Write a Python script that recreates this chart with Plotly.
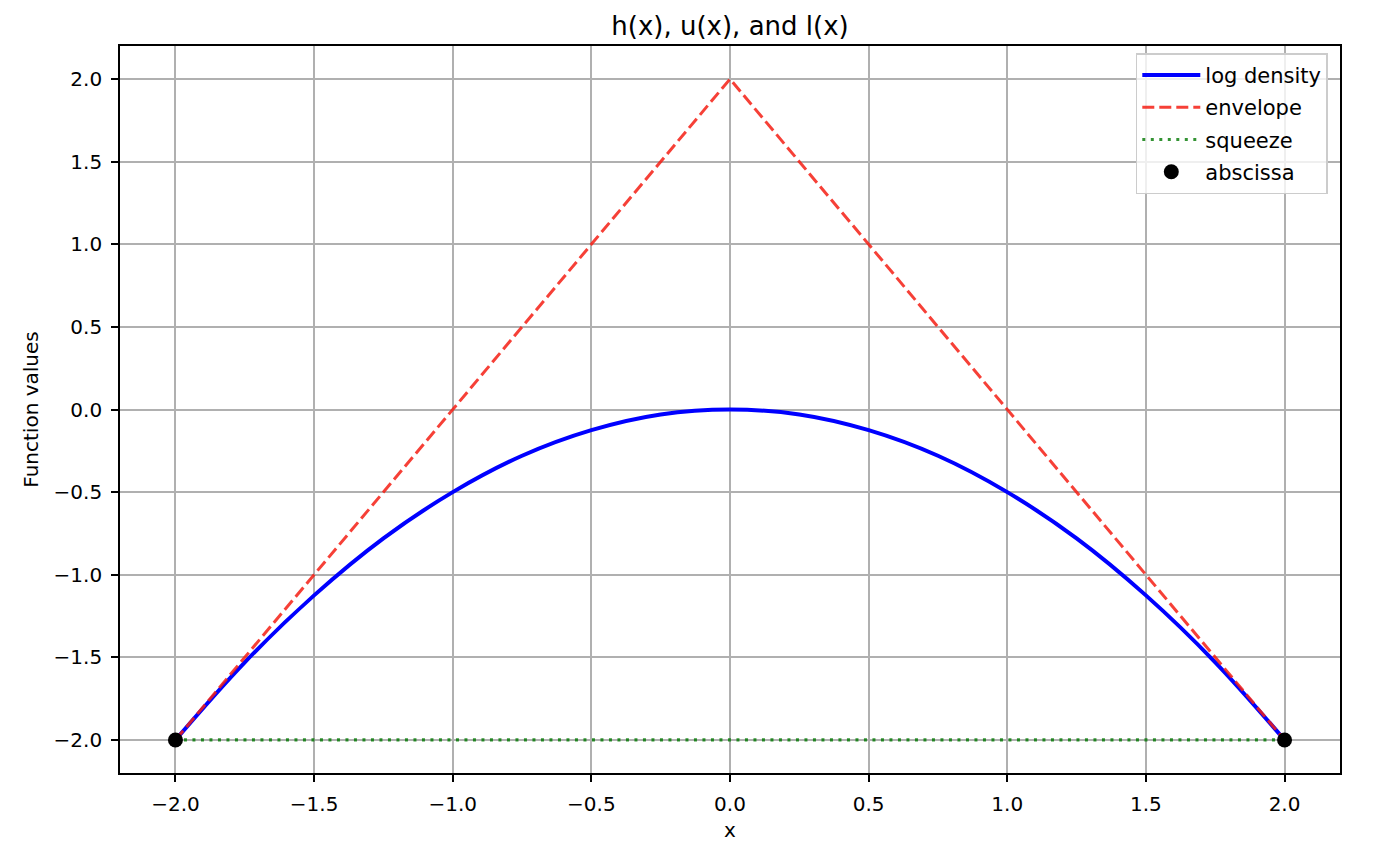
import plotly.graph_objects as go

# Data
x_density = [-2.0, -1.75, -1.5, -1.25, -1.0, -0.75, -0.5, -0.25, 0.0,
             0.25, 0.5, 0.75, 1.0, 1.25, 1.5, 1.75, 2.0]
y_density = [-2.0, -1.53, -1.125, -0.78, -0.5, -0.28, -0.125, -0.03, 0.0,
             -0.03, -0.125, -0.28, -0.5, -0.78, -1.125, -1.53, -2.0]
x_envelope = [-2.0, 0.0, 2.0]
y_envelope = [-2.0, 2.0, -2.0]
x_squeeze = [-2.0, 2.0]
y_squeeze = [-2.0, -2.0]
x_abscissa = [-2.0, 2.0]
y_abscissa = [-2.0, -2.0]
tick_vals = [-2.0, -1.5, -1.0, -0.5, 0.0, 0.5, 1.0, 1.5, 2.0]

FONT = "DejaVu Sans"
TICK_SIZE = 20

fig = go.Figure()
fig.add_trace(go.Scatter(x=x_density, y=y_density, mode="lines", name="log density",
                         legendgroup="a",
                         line=dict(color="#0000ff", width=4, shape="spline")))
fig.add_trace(go.Scatter(x=x_envelope, y=y_envelope, mode="lines", name="envelope",
                         legendgroup="b",
                         line=dict(color="rgba(245,30,20,0.85)", width=3, dash="12px,5px")))
fig.add_trace(go.Scatter(x=x_squeeze, y=y_squeeze, mode="lines", name="squeeze",
                         legendgroup="c",
                         line=dict(color="rgba(0,120,0,0.8)", width=3.2, dash="3px,5.5px")))
fig.add_trace(go.Scatter(x=x_abscissa, y=y_abscissa, mode="markers", name="abscissa",
                         legendgroup="d",
                         marker=dict(color="black", size=15)))

axis_common = dict(
    showline=True, linecolor="black", linewidth=1.7, mirror=True,
    ticks="outside", ticklen=7, tickcolor="black", tickwidth=1.6,
    showgrid=True, gridcolor="#b0b0b0", gridwidth=1.5,
    zeroline=False, tickfont=dict(family=FONT, size=TICK_SIZE, color="black"),
    tickvals=tick_vals, tickformat=".1f", ticklabelstandoff=5,
)

fig.update_layout(
    width=1380, height=846,
    margin=dict(l=112, r=48, t=38, b=81),
    paper_bgcolor="white", plot_bgcolor="white",
    font=dict(family=FONT, size=TICK_SIZE, color="black"),
    title=dict(text="h(x), u(x), and l(x)", x=(112 + 610) / 1380, xanchor="center",
               y=1 - 18 / 846, yanchor="middle",
               font=dict(family=FONT, size=26, color="black")),
    xaxis=dict(range=[-2.2, 2.2],
               title=dict(text="x", font=dict(family=FONT, size=TICK_SIZE), standoff=8),
               **axis_common),
    yaxis=dict(range=[-2.2, 2.2],
               title=dict(text="Function values", font=dict(family=FONT, size=TICK_SIZE), standoff=10),
               **axis_common),
    legend=dict(x=0.990, y=0.99, xanchor="right", yanchor="top",
                bgcolor="rgba(255,255,255,0.8)", bordercolor="#cccccc", borderwidth=1.5,
                font=dict(family=FONT, size=21, color="black"),
                itemwidth=58, tracegroupgap=2, traceorder="grouped"),
    showlegend=True,
)

fig.write_html("out.html")
